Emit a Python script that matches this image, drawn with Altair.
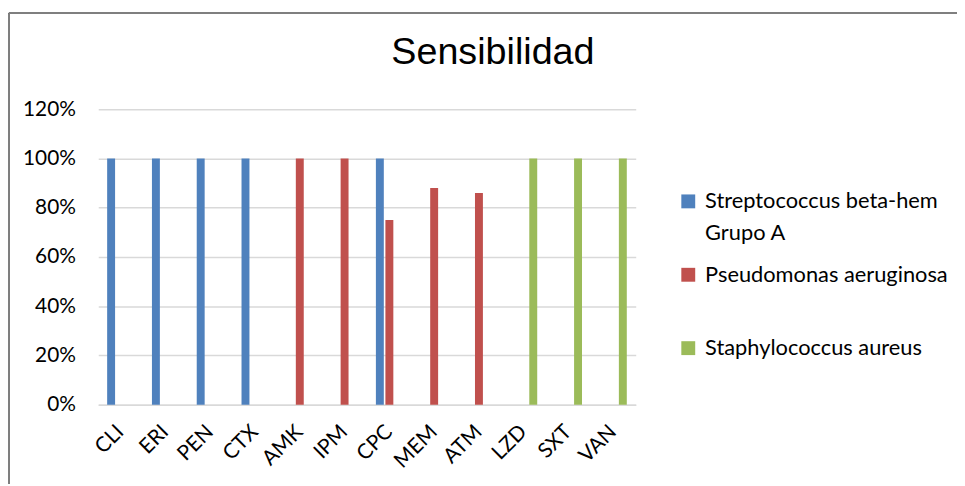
import altair as alt
import pandas as pd

antibiotics = ["CLI", "ERI", "PEN", "CTX", "AMK", "IPM", "CPC", "MEM", "ATM", "LZD", "SXT", "VAN"]
organisms = ["Streptococcus beta-hem Grupo A", "Pseudomonas aeruginosa", "Staphylococcus aureus"]
colors = ["#4f81bd", "#c0504d", "#9bbb59"]

strep = [1.00, 1.00, 1.00, 1.00, None, None, 1.00, None, None, None, None, None]
pseudo = [None, None, None, None, 1.00, 1.00, 0.75, 0.88, 0.86, None, None, None]
staph = [None, None, None, None, None, None, None, None, None, 1.00, 1.00, 1.00]

rows = []
for org, vals in zip(organisms, [strep, pseudo, staph]):
    for ab, v in zip(antibiotics, vals):
        if v is not None:
            rows.append({"Antibiotico": ab, "Organismo": org, "Valor": v})
df = pd.DataFrame(rows)

W, H = 542, 298
PL, PT, PR, PB = 91, 100, 324, 80
FONT = "Lato"

bars = alt.Chart(df).mark_bar().encode(
    x=alt.X("Antibiotico:N", sort=antibiotics, title=None,
            scale=alt.Scale(paddingInner=0.398, paddingOuter=0.199),
            axis=alt.Axis(labelAngle=-45, labelAlign="right", labelBaseline="middle",
                          labelPadding=24, ticks=False, domainColor="#d9d9d9",
                          domainWidth=1.5, grid=False, labelFont=FONT,
                          labelFontSize=21, labelColor="#000000")),
    xOffset=alt.XOffset("Organismo:N", sort=organisms,
                        scale=alt.Scale(paddingInner=0.167, paddingOuter=0)),
    y=alt.Y("Valor:Q", title=None,
            scale=alt.Scale(domain=[0, 1.2], nice=False),
            axis=alt.Axis(values=[0, 0.2, 0.4, 0.6, 0.8, 1.0, 1.2], format=".0%",
                          domain=False, ticks=False, labelPadding=23,
                          gridColor="#d9d9d9", gridWidth=1.5, labelFont=FONT,
                          labelFontSize=21, labelColor="#000000")),
    color=alt.Color("Organismo:N", sort=organisms,
                    scale=alt.Scale(domain=organisms, range=colors),
                    legend=alt.Legend(
                        title=None, orient="none", legendX=584, legendY=82,
                        symbolType="square", symbolSize=196, symbolStrokeWidth=0,
                        labelFont=FONT, labelFontSize=22, labelColor="#000000",
                        labelOffset=6, labelLimit=400, rowPadding=20, padding=0,
                        gridAlign="all",
                        labelExpr="datum.label == 'Streptococcus beta-hem Grupo A' ? ['Streptococcus beta-hem', 'Grupo A'] : datum.label")),
)

border_left = alt.Chart(df).mark_rule(color="#7f7f7f", strokeWidth=2).encode(
    x=alt.value(-90), y=alt.value(-97), y2=alt.value(H + PB)
)
border_top = alt.Chart(df).mark_rule(color="#7f7f7f", strokeWidth=2).encode(
    x=alt.value(-90), x2=alt.value(W + PR), y=alt.value(-97)
)

chart = alt.layer(bars, border_left, border_top).properties(
    width=W, height=H,
    autosize=alt.AutoSizeParams(type="none"),
    padding={"left": PL, "top": PT, "right": PR, "bottom": PB},
    title=alt.Title("Sensibilidad", font="Liberation Sans", fontSize=38,
                    fontWeight="normal", color="#000000", anchor="middle",
                    dx=127, baseline="alphabetic", offset=-90),
).configure(
    style={"guide-label": {"lineHeight": 32}},
    view={"strokeWidth": 0},
)

chart.save("out.html", embed_options={"renderer": "svg", "actions": False})
